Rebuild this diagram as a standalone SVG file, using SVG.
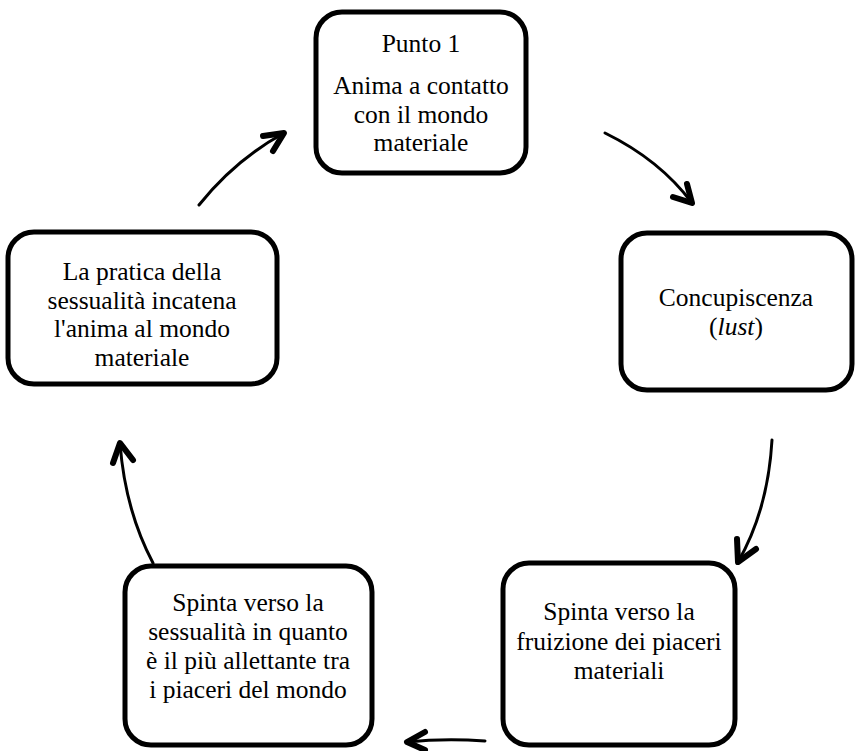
<svg xmlns="http://www.w3.org/2000/svg" width="858" height="751" viewBox="0 0 858 751">
<style>
.box{fill:#fff;stroke:#000;stroke-width:5}
.t{font-family:"Liberation Serif","Times New Roman",serif;font-size:25.5px;fill:#000;text-anchor:middle}
.ln{fill:none;stroke:#000;stroke-width:3;stroke-linecap:round}
.hd{fill:none;stroke:#000;stroke-width:6;stroke-linecap:round;stroke-linejoin:round}
</style>
<rect width="858" height="751" fill="#fff"/>
<g id="node1">
<rect class="box" x="316" y="12" width="210" height="161" rx="26"/>
<text class="t" x="421" y="52">Punto 1</text>
<text class="t" x="421" y="94">Anima a contatto</text>
<text class="t" x="421" y="123">con il mondo</text>
<text class="t" x="421" y="151">materiale</text>
</g>
<g id="node2">
<rect class="box" x="621" y="233" width="231" height="157" rx="26"/>
<text class="t" x="736" y="306">Concupiscenza</text>
<text class="t" x="736" y="335">(<tspan font-style="italic">lust</tspan>)</text>
</g>
<g id="node3">
<rect class="box" x="503" y="563" width="232" height="182" rx="26"/>
<text class="t" x="619" y="620">Spinta verso la</text>
<text class="t" x="619" y="650">fruizione dei piaceri</text>
<text class="t" x="619" y="679">materiali</text>
</g>
<g id="node4">
<rect class="box" x="125" y="566" width="247" height="179" rx="26"/>
<text class="t" x="248" y="611">Spinta verso la</text>
<text class="t" x="248" y="640">sessualità in quanto</text>
<text class="t" x="248" y="669">è il più allettante tra</text>
<text class="t" x="248" y="698">i piaceri del mondo</text>
</g>
<g id="node5">
<rect class="box" x="8" y="232" width="269" height="152" rx="26"/>
<text class="t" x="142" y="280">La pratica della</text>
<text class="t" x="142" y="309">sessualità incatena</text>
<text class="t" x="142" y="337">l'anima al mondo</text>
<text class="t" x="142" y="366">materiale</text>
</g>
<g id="connectors">
<path class="ln" d="M199,205 Q235,160 284,133"/>
<path class="hd" d="M263,136 L284,133 L273,151"/>
<path class="ln" d="M605,133 Q660,160 692,203"/>
<path class="hd" d="M687,184 L692,203 L673,197"/>
<path class="ln" d="M772,440 Q768,510 738,562"/>
<path class="hd" d="M737,539 L738,562 L756,549"/>
<path class="ln" d="M485,741 Q445,738 407,742"/>
<path class="hd" d="M425,732 L407,742 L425,750"/>
<path class="ln" d="M153,563 Q125,510 120,443"/>
<path class="hd" d="M113,463 L120,443 L133,460"/>
</g>
</svg>
